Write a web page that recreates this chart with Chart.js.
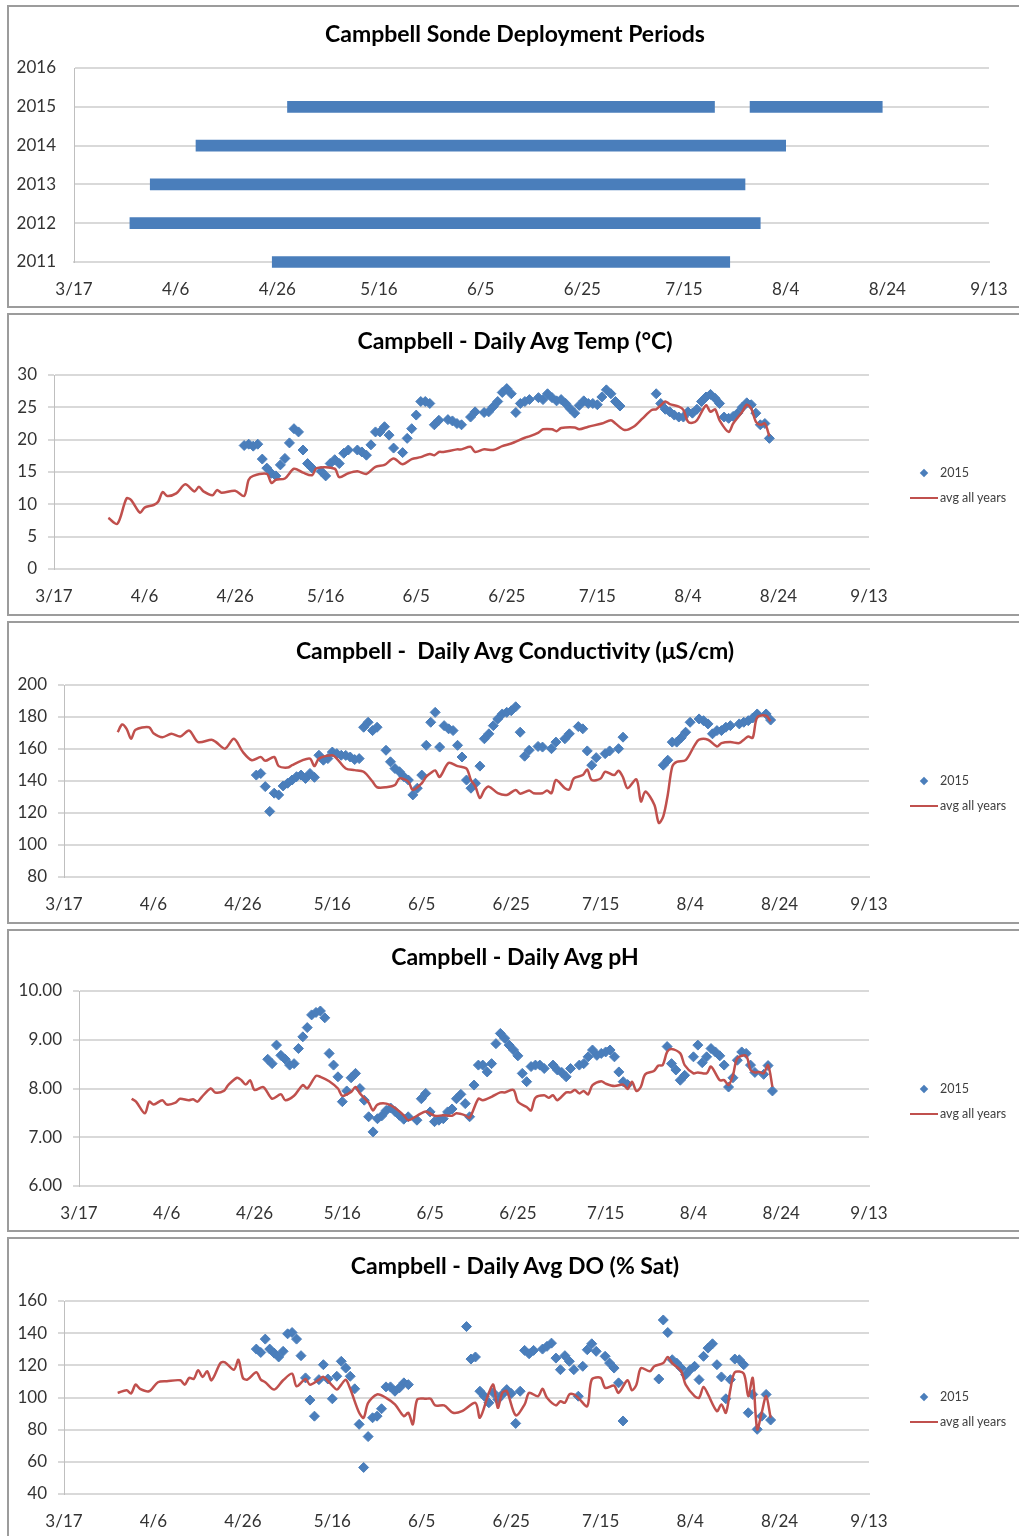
<!DOCTYPE html>
<html>
<head>
<meta charset="utf-8">
<title>Campbell Sonde</title>
<script src="https://cdn.jsdelivr.net/npm/chart.js@4.4.1/dist/chart.umd.min.js"></script>
<style>
  html, body { margin: 0; padding: 0; background: #fff; }
  body { width: 1019px; height: 1536px; position: relative; overflow: hidden; font-family: Lato, "Open Sans", sans-serif; }
  .panel { position: absolute; left: 0; width: 1019px; height: 303px; }
  .panel canvas { position: absolute; left: 0; top: 0; }
  .frame { position: absolute; left: 7px; top: 0; width: 1010px; height: 299px; border: 2px solid #9c9c9c; pointer-events: none; }
  .title { position: absolute; left: 0; width: 1030px; text-align: center; font-weight: bold; font-size: 23px; line-height: 28px; color: #000; white-space: pre; }
  .lg-dia { position: absolute; left: 921px; top: 157px; width: 6px; height: 6px; background: #4a7ebb; transform: rotate(45deg); }
  .lg-line { position: absolute; left: 910px; top: 184px; width: 28px; height: 2px; background: #c0504d; }
  .lg-txt { position: absolute; left: 940px; font-size: 12.5px; line-height: 14px; color: #404040; }
</style>
</head>
<body>

<div class="panel" style="top:5px">
  <canvas id="deploy" width="1019" height="303"></canvas>
  <div class="title" style="top:14px">Campbell Sonde Deployment Periods</div>
  <div class="frame"></div>
</div>

<div class="panel" style="top:313px">
  <canvas id="temp" width="1019" height="303"></canvas>
  <div class="title" style="top:13px">Campbell - Daily Avg Temp (°C)</div>
  <div class="lg-dia"></div><div class="lg-txt" style="top:153px">2015</div>
  <div class="lg-line"></div><div class="lg-txt" style="top:178px">avg all years</div>
  <div class="frame"></div>
</div>

<div class="panel" style="top:621px">
  <canvas id="cond" width="1019" height="303"></canvas>
  <div class="title" style="top:15px">Campbell -  Daily Avg Conductivity (μS/cm)</div>
  <div class="lg-dia"></div><div class="lg-txt" style="top:153px">2015</div>
  <div class="lg-line"></div><div class="lg-txt" style="top:178px">avg all years</div>
  <div class="frame"></div>
</div>

<div class="panel" style="top:929px">
  <canvas id="ph" width="1019" height="303"></canvas>
  <div class="title" style="top:13px">Campbell - Daily Avg pH</div>
  <div class="lg-dia"></div><div class="lg-txt" style="top:153px">2015</div>
  <div class="lg-line"></div><div class="lg-txt" style="top:178px">avg all years</div>
  <div class="frame"></div>
</div>

<div class="panel" style="top:1237px">
  <canvas id="do" width="1019" height="303"></canvas>
  <div class="title" style="top:14px">Campbell - Daily Avg DO (% Sat)</div>
  <div class="lg-dia"></div><div class="lg-txt" style="top:153px">2015</div>
  <div class="lg-line"></div><div class="lg-txt" style="top:178px">avg all years</div>
  <div class="frame"></div>
</div>

<script>
// x axis: day of year 2015 (3/17 = day 76), a tick every 20 days
const xTickLabels = ["3/17", "4/6", "4/26", "5/16", "6/5", "6/25", "7/15", "8/4", "8/24", "9/13"];
const xFirstDay = 76;
const xStepDays = 20;

// deployment periods (day of year)
const yearLabels = ["2016", "2015", "2014", "2013", "2012", "2011"];
const deployStart = [null, 118, 100, 91, 87, 115];
const deployEnd = [null, 202, 216, 208, 211, 205];
const deploy2015b = [209, 235];

// temperature (°C)
const tempDays15 = [
  118, 119, 120, 121, 122, 123, 124, 125, 126, 127,
  128, 129, 130, 131, 132, 133, 135, 136, 137, 138,
  139, 140, 141, 143, 144, 145, 146, 147, 148, 149,
  150, 151, 153, 154, 155, 156, 157, 158, 159, 160,
  161, 163, 164, 165, 166, 168, 169, 171, 172, 173,
  174, 175, 176, 177, 178, 179, 180, 181, 183, 184,
  185, 186, 187, 188, 189, 190, 191, 192, 193, 194,
  195, 196, 197, 198, 199, 200, 201,
  209, 210, 211, 212, 213, 214, 215, 216, 217, 218,
  219, 220, 221, 222, 223, 224, 225, 226, 227, 228,
  229, 230, 231, 232, 233, 234];
const temp15 = [
  19.1, 19.3, 19.0, 19.3, 17.0, 15.6, 14.8, 14.4, 16.1, 17.1,
  19.5, 21.7, 21.2, 18.4, 16.3, 15.6, 15.1, 14.4, 16.3, 16.9,
  16.3, 17.9, 18.4, 18.4, 18.1, 17.6, 19.2, 21.2, 21.2, 22.0,
  20.7, 18.7, 18.0, 20.2, 21.7, 23.8, 25.9, 25.9, 25.6, 22.3,
  23.0, 23.1, 22.9, 22.5, 22.3, 23.5, 24.3, 24.2, 24.3, 25.1,
  25.9, 27.3, 27.9, 27.1, 24.2, 25.6, 25.9, 26.2, 26.5, 26.2,
  27.1, 26.5, 26.0, 26.2, 25.6, 24.8, 24.1, 25.3, 26.0, 25.6,
  25.6, 25.4, 26.6, 27.7, 27.1, 25.9, 25.2,
  27.1, 25.6, 24.7, 24.3, 23.8, 23.5, 23.5, 24.3, 24.1, 24.7,
  25.9, 26.6, 27.0, 26.4, 25.6, 23.5, 23.3, 23.6, 24.1, 25.0,
  25.7, 25.4, 24.1, 22.3, 22.5, 20.2];
const tempAvgDays = [
  88, 90, 92, 93, 95, 96, 98, 99, 100, 101,
  103, 105, 107, 108, 109, 111, 112, 113, 116, 118,
  119, 120, 123, 124, 125, 127, 129, 131, 133, 134,
  138, 139, 141, 143, 145, 147, 149, 151, 153, 155,
  157, 159, 160, 161, 162, 165, 166, 168, 169, 171,
  173, 175, 177, 178, 180, 181, 183, 184, 186, 187,
  188, 191, 192, 194, 197, 199, 200, 202, 204, 206,
  208, 209, 210, 211, 212, 214, 215, 216, 217, 218,
  220, 221, 222, 223, 225, 226, 228, 229, 230, 231,
  232, 233, 234];
const tempAvg = [
  7.9, 7.0, 10.9, 10.7, 8.7, 9.5, 9.9, 10.4, 11.9, 11.3,
  11.7, 13.1, 12.0, 12.7, 12.0, 11.4, 12.2, 11.8, 12.1, 11.3,
  13.8, 14.4, 14.7, 13.3, 13.8, 14.0, 15.5, 14.9, 14.5, 15.6,
  15.5, 14.2, 14.8, 15.1, 14.7, 15.8, 16.1, 17.1, 16.2, 17.0,
  17.3, 17.8, 17.6, 18.1, 18.1, 18.5, 18.5, 18.9, 18.1, 18.5,
  18.4, 19.0, 19.4, 19.7, 20.3, 20.5, 21.1, 21.6, 21.6, 21.3,
  21.8, 21.9, 21.6, 22.0, 22.5, 23.0, 22.5, 21.5, 22.0, 23.3,
  24.6, 24.7, 25.3, 25.9, 25.5, 25.1, 24.6, 22.8, 22.6, 23.0,
  25.3, 24.3, 24.7, 23.0, 21.2, 22.5, 24.3, 25.4, 24.8, 22.8,
  22.3, 22.5, 20.5];

// conductivity (μS/cm)
const condDays15 = [
  119, 120, 121, 122, 123, 124, 125, 126, 127, 128,
  129, 130, 131, 132, 133, 134, 135, 136, 137, 138,
  139, 140, 141, 142, 143, 144, 145, 146, 148, 149,
  150, 151, 152, 153, 154, 155, 156, 157, 158, 159,
  160, 161, 162, 163, 164, 165, 166, 167, 168, 169,
  170, 171, 172, 173, 174, 175, 176, 177, 178, 179,
  180, 182, 183, 185, 186, 188, 189, 191, 192, 193,
  194, 195, 197, 198, 200, 201,
  210, 211, 212, 213, 214, 215, 216, 218, 219, 220,
  221, 222, 223, 224, 225, 227, 228, 229, 230, 231,
  233, 234];
const cond15 = [
  143.7, 144.7, 136.5, 121.0, 132.4, 131.3, 136.9, 138.6, 140.6, 142.7,
  143.7, 141.6, 144.7, 142.3, 156.1, 153.0, 154.0, 158.1, 157.1, 156.1,
  156.0, 155.0, 153.4, 154.0, 173.6, 176.7, 171.5, 173.6, 159.2, 152.0,
  147.8, 145.8, 142.7, 140.6, 131.3, 135.5, 143.7, 162.3, 176.7, 182.9,
  161.2, 174.6, 172.6, 171.5, 162.3, 155.0, 140.6, 135.5, 138.6, 149.3,
  166.4, 169.5, 174.6, 178.8, 181.9, 182.9, 183.9, 186.4, 170.5, 155.5,
  159.2, 161.6, 161.2, 160.2, 164.3, 166.4, 169.5, 174.0, 172.6, 158.8,
  149.9, 154.6, 157.1, 158.8, 160.2, 167.4,
  149.9, 153.0, 164.3, 164.3, 167.0, 170.5, 176.7, 178.8, 177.7, 175.7,
  169.5, 171.5, 171.5, 173.6, 174.6, 175.7, 176.7, 177.7, 179.4, 181.9,
  181.9, 178.1];
const condAvgDays = [
  88, 89, 90, 91, 92, 95, 96, 98, 100, 102,
  104, 106, 109, 110, 112, 114, 116, 118, 120, 121,
  123, 124, 126, 127, 129, 131, 132, 133, 136, 137,
  139, 141, 143, 145, 146, 148, 150, 151, 153, 154,
  156, 157, 158, 159, 160, 162, 164, 166, 167, 168,
  169, 170, 171, 173, 175, 177, 178, 180, 181, 183,
  184, 185, 186, 188, 189, 190, 192, 193, 194, 196,
  197, 199, 200, 201, 202, 204, 205, 206, 208, 209,
  210, 211, 212, 213, 215, 217, 218, 220, 222, 223,
  225, 227, 228, 229, 230, 231, 233, 234];
const condAvg = [
  170.5, 175.3, 172.6, 166.4, 172.0, 173.6, 169.9, 167.4, 169.5, 167.8,
  171.5, 164.3, 165.8, 164.3, 160.2, 166.4, 158.1, 153.0, 155.0, 152.6,
  155.0, 149.3, 148.4, 149.9, 152.6, 154.0, 149.3, 154.0, 156.1, 154.0,
  147.8, 146.8, 145.8, 139.6, 136.1, 136.1, 137.5, 141.6, 139.6, 134.4,
  138.6, 142.7, 145.0, 146.6, 142.5, 151.3, 149.3, 147.8, 140.6, 136.5,
  129.3, 134.4, 136.5, 132.4, 131.3, 134.4, 132.0, 134.0, 132.4, 132.4,
  134.0, 132.4, 140.6, 135.5, 134.8, 141.6, 143.7, 147.2, 140.6, 141.6,
  145.8, 143.7, 146.4, 142.3, 135.5, 141.0, 127.2, 133.4, 125.2, 113.8,
  117.9, 131.3, 148.9, 152.0, 153.0, 162.3, 165.8, 165.8, 161.6, 163.7,
  164.3, 163.7, 165.8, 167.8, 167.0, 179.8, 180.8, 177.3];

// pH
const phDays15 = [
  119, 120, 121, 122, 123, 124, 125, 126, 127, 128,
  129, 130, 131, 132, 133, 134, 135, 136, 137, 138,
  139, 140, 141, 142, 143, 144, 145, 146, 147, 148,
  149, 150, 151, 153, 154, 155, 156, 157, 158, 159,
  160, 161, 162, 163, 164, 165, 166, 167, 168, 169,
  170, 171, 172, 173, 174, 175, 176, 177, 178, 179,
  180, 181, 182, 184, 185, 186, 187, 188, 190, 191,
  192, 193, 194, 195, 196, 197, 198, 199, 200, 201,
  210, 211, 212, 213, 214, 216, 217, 218, 219, 220,
  221, 222, 223, 224, 225, 226, 227, 228, 229, 230,
  232, 233, 234];
const ph15 = [
  8.60, 8.51, 8.89, 8.68, 8.60, 8.48, 8.51, 8.82, 9.06, 9.25,
  9.51, 9.56, 9.59, 9.45, 8.72, 8.48, 8.24, 7.73, 7.95, 8.22,
  8.31, 8.00, 7.76, 7.42, 7.11, 7.38, 7.44, 7.55, 7.60, 7.53,
  7.45, 7.37, 7.42, 7.35, 7.79, 7.90, 7.52, 7.32, 7.35, 7.38,
  7.52, 7.58, 7.79, 7.88, 7.69, 7.42, 8.07, 8.48, 8.48, 8.34,
  8.51, 8.92, 9.13, 9.03, 8.89, 8.79, 8.67, 8.31, 8.14, 8.45,
  8.48, 8.48, 8.41, 8.48, 8.38, 8.33, 8.24, 8.41, 8.48, 8.51,
  8.65, 8.79, 8.68, 8.72, 8.75, 8.79, 8.65, 8.34, 8.14, 8.08,
  8.86, 8.51, 8.38, 8.17, 8.27, 8.65, 8.89, 8.53, 8.65, 8.82,
  8.75, 8.67, 8.48, 8.03, 8.22, 8.58, 8.75, 8.72, 8.48, 8.33,
  8.29, 8.47, 7.95];
const phAvgDays = [
  88, 89, 91, 92, 93, 95, 96, 98, 99, 101,
  102, 103, 104, 106, 107, 109, 110, 112, 113, 114,
  115, 116, 118, 120, 122, 123, 125, 127, 128, 130,
  131, 133, 135, 136, 138, 139, 140, 142, 143, 144,
  146, 148, 150, 151, 153, 155, 157, 159, 161, 162,
  164, 165, 167, 168, 170, 172, 173, 175, 176, 178,
  179, 180, 182, 183, 184, 185, 187, 188, 189, 190,
  191, 192, 193, 195, 196, 198, 200, 201, 202, 203,
  204, 205, 207, 208, 209, 210, 211, 213, 214, 216,
  217, 219, 220, 222, 223, 224, 225, 226, 228, 229,
  230, 231, 232, 233, 234];
const phAvg = [
  7.79, 7.73, 7.49, 7.73, 7.67, 7.76, 7.67, 7.71, 7.79, 7.76,
  7.78, 7.73, 7.83, 8.00, 7.92, 7.95, 8.07, 8.22, 8.17, 8.08,
  8.17, 7.97, 8.03, 7.79, 7.88, 7.76, 7.85, 8.07, 8.00, 8.26,
  8.24, 8.15, 8.00, 7.85, 7.93, 8.03, 7.90, 7.71, 7.55, 7.67,
  7.69, 7.60, 7.45, 7.35, 7.44, 7.53, 7.44, 7.45, 7.44, 7.49,
  7.45, 7.40, 7.79, 7.76, 7.83, 7.92, 7.92, 7.97, 7.73, 7.62,
  7.55, 7.81, 7.86, 7.81, 7.86, 7.76, 7.92, 7.92, 7.97, 7.90,
  7.95, 7.88, 8.07, 8.15, 8.10, 8.05, 8.08, 7.99, 8.14, 7.95,
  8.03, 8.29, 8.36, 8.47, 8.48, 8.75, 8.81, 8.72, 8.48, 8.31,
  8.33, 8.31, 8.45, 8.17, 8.17, 8.07, 8.27, 8.62, 8.67, 8.38,
  8.33, 8.34, 8.31, 8.48, 8.03];

// dissolved oxygen (% sat)
const doDays15 = [
  119, 120, 121, 122, 123, 124, 125, 126, 127, 128,
  129, 130, 131, 132, 133, 134, 135, 136, 137, 138,
  139, 140, 141, 142, 143, 144, 145, 146, 147, 148,
  149, 150, 151, 152, 153,
  166, 167, 168, 169, 170, 171, 172, 173, 174, 175,
  176, 177, 178, 179, 180, 181, 183, 184, 185, 186,
  187, 188, 189, 190, 191, 192, 193, 194, 195, 197,
  198, 199, 200, 201,
  209, 210, 211, 212, 213, 214, 215, 216, 217, 218,
  219, 220, 221, 222, 223, 224, 225, 226, 227, 228,
  229, 230, 231, 232, 233, 234];
const do15 = [
  130.1, 128.0, 136.3, 130.1, 127.6, 125.2, 128.7, 139.6, 140.4, 136.3,
  126.0, 112.2, 98.4, 88.4, 111.1, 120.4, 111.5, 99.2, 113.2, 122.5,
  118.3, 113.2, 105.4, 83.3, 56.5, 75.7, 87.4, 88.4, 93.0, 106.6,
  106.6, 103.9, 106.0, 109.1, 108.0,
  144.1, 123.9, 125.2, 103.9, 100.8, 96.7, 102.9, 98.8, 101.9, 104.9,
  102.5, 83.9, 103.9, 129.3, 127.2, 129.3, 130.1, 131.8, 133.8, 124.5,
  117.3, 126.0, 122.5, 117.3, 100.8, 119.4, 129.7, 133.4, 128.7, 125.6,
  121.4, 118.3, 109.1, 85.4,
  111.5, 148.2, 140.4, 123.5, 121.4, 118.3, 114.2, 117.3, 119.4, 111.1,
  125.6, 130.7, 133.4, 120.4, 112.8, 99.2, 111.1, 123.9, 123.5, 120.4,
  90.5, 101.9, 80.2, 88.4, 101.9, 86.0];
const doAvgDays = [
  88, 90, 91, 92, 93, 95, 97, 99, 102, 103,
  104, 105, 106, 107, 108, 109, 111, 112, 114, 115,
  116, 117, 119, 120, 121, 123, 125, 127, 128, 130,
  131, 133, 134, 136, 137, 138, 139, 140, 142, 143,
  144, 146, 148, 150, 152, 153, 154, 155, 157, 158,
  159, 161, 163, 165, 168, 169, 171, 172, 173, 174,
  175, 177, 179, 180, 182, 183, 184, 186, 187, 188,
  189, 190, 191, 193, 194, 196, 197, 199, 200, 202,
  203, 204, 205, 207, 208, 210, 211, 212, 214, 215,
  217, 218, 219, 220, 222, 223, 224, 225, 226, 228,
  229, 230, 231, 232, 233, 234];
const doAvg = [
  102.9, 104.5, 102.5, 108.0, 105.4, 103.9, 109.5, 110.1, 110.7, 108.0,
  112.2, 111.5, 116.9, 112.8, 116.3, 110.7, 121.4, 121.9, 117.3, 123.5,
  112.2, 111.1, 115.7, 111.1, 109.5, 104.9, 110.7, 114.8, 107.0, 111.5,
  108.0, 111.1, 112.8, 107.4, 104.9, 108.0, 111.1, 105.4, 90.5, 87.4,
  96.7, 101.9, 99.8, 95.7, 88.4, 90.5, 83.3, 98.8, 99.2, 99.2,
  95.1, 95.1, 90.5, 91.5, 96.7, 87.4, 102.9, 108.0, 93.6, 102.9,
  103.9, 88.9, 95.7, 102.9, 100.8, 105.4, 99.8, 95.1, 97.7, 96.7,
  101.9, 101.9, 99.8, 94.6, 111.1, 112.2, 106.0, 107.4, 102.9, 110.7,
  104.5, 108.0, 118.3, 116.3, 119.4, 121.4, 125.2, 121.4, 116.3, 108.0,
  100.8, 99.8, 106.6, 101.9, 91.5, 95.7, 90.5, 104.9, 115.7, 114.8,
  100.8, 112.2, 80.2, 90.5, 100.8, 87.4];

const BLUE = "#4a7ebb";
const RED = "#c0504d";
const GRID = "#d9d9d9";
const AXIS = "#bfbfbf";
const TICK = "#333333";
const CANVAS_H = 303;

Chart.defaults.font.family = "Lato, 'Open Sans', sans-serif";

function dayTick(value) {
  return xTickLabels[Math.round((value - xFirstDay) / xStepDays)];
}

// shared date axis
function dateAxis() {
  return {
    type: "linear",
    min: xFirstDay,
    max: xFirstDay + xStepDays * (xTickLabels.length - 1),
    grid: { display: false },
    border: { color: GRID, width: 2 },
    ticks: {
      stepSize: xStepDays,
      callback: dayTick,
      color: TICK,
      font: { size: 17 },
      padding: 9,
      maxRotation: 0,
      autoSkip: false,
    },
    afterFit: (scale) => { scale.height = 40; },
  };
}

// deployment periods, floating horizontal bars
function setupDeployChart() {
  const firstPeriod = deployStart.map((s, i) => (s === null ? null : [s, deployEnd[i]]));
  const secondPeriod = yearLabels.map((y) => (y === "2015" ? deploy2015b : null));
  const barStyle = { backgroundColor: BLUE, barThickness: 11, grouped: false, clip: false };

  new Chart(document.getElementById("deploy"), {
    type: "bar",
    data: {
      labels: yearLabels,
      datasets: [
        Object.assign({ label: "period", data: firstPeriod }, barStyle),
        Object.assign({ label: "period 2", data: secondPeriod }, barStyle),
      ],
    },
    options: {
      indexAxis: "y",
      responsive: false,
      animation: false,
      events: [],
      layout: { padding: { top: 63, right: 30, bottom: CANVAS_H - 257 - 40, left: 0 } },
      plugins: { legend: { display: false }, tooltip: { enabled: false } },
      scales: {
        x: dateAxis(),
        y: {
          type: "category",
          offset: false,
          grid: { offset: false, color: GRID, lineWidth: 2, drawTicks: false },
          border: { color: AXIS, width: 1 },
          ticks: { color: TICK, font: { size: 17 }, padding: 18 },
          afterFit: (scale) => { scale.width = 74; },
        },
      },
    },
  });
}

function toPoints(days, vals) {
  return days.map((d, i) => ({ x: d, y: vals[i] }));
}

// 2015 daily values (diamonds) + average of all years (line)
function setupSondeChart(p) {
  new Chart(document.getElementById(p.id), {
    type: "scatter",
    data: {
      datasets: [
        {
          label: "2015",
          data: toPoints(p.days15, p.vals15),
          pointStyle: "rectRot",
          pointRadius: 5,
          pointBorderWidth: 1,
          backgroundColor: BLUE,
          borderColor: BLUE,
          order: 1,
        },
        {
          type: "line",
          label: "avg all years",
          data: toPoints(p.avgDays, p.avgVals),
          borderColor: RED,
          backgroundColor: RED,
          borderWidth: 2.5,
          pointRadius: 0,
          tension: 0.3,
          fill: false,
          order: 0,
        },
      ],
    },
    options: {
      responsive: false,
      animation: false,
      events: [],
      layout: { padding: { top: p.top, right: 150, bottom: CANVAS_H - p.bottom - 40, left: 0 } },
      plugins: { legend: { display: false }, tooltip: { enabled: false } },
      scales: {
        x: dateAxis(),
        y: {
          min: p.yMin,
          max: p.yMax,
          grid: { color: GRID, lineWidth: 2, tickLength: 6 },
          border: { color: AXIS, width: 1 },
          ticks: {
            stepSize: p.yStep,
            callback: (v) => v.toFixed(p.decimals),
            color: TICK,
            font: { size: 17 },
            padding: 11,
          },
          afterFit: (scale) => { scale.width = p.plotLeft; },
        },
      },
    },
  });
}

setupDeployChart();
setupSondeChart({ id: "temp", days15: tempDays15, vals15: temp15, avgDays: tempAvgDays, avgVals: tempAvg,
  yMin: 0, yMax: 30, yStep: 5, decimals: 0, plotLeft: 54, top: 62, bottom: 256 });
setupSondeChart({ id: "cond", days15: condDays15, vals15: cond15, avgDays: condAvgDays, avgVals: condAvg,
  yMin: 80, yMax: 200, yStep: 20, decimals: 0, plotLeft: 64, top: 64, bottom: 256 });
setupSondeChart({ id: "ph", days15: phDays15, vals15: ph15, avgDays: phAvgDays, avgVals: phAvg,
  yMin: 6, yMax: 10, yStep: 1, decimals: 2, plotLeft: 79, top: 62, bottom: 257 });
setupSondeChart({ id: "do", days15: doDays15, vals15: do15, avgDays: doAvgDays, avgVals: doAvg,
  yMin: 40, yMax: 160, yStep: 20, decimals: 0, plotLeft: 64, top: 64, bottom: 257 });
</script>
</body>
</html>
